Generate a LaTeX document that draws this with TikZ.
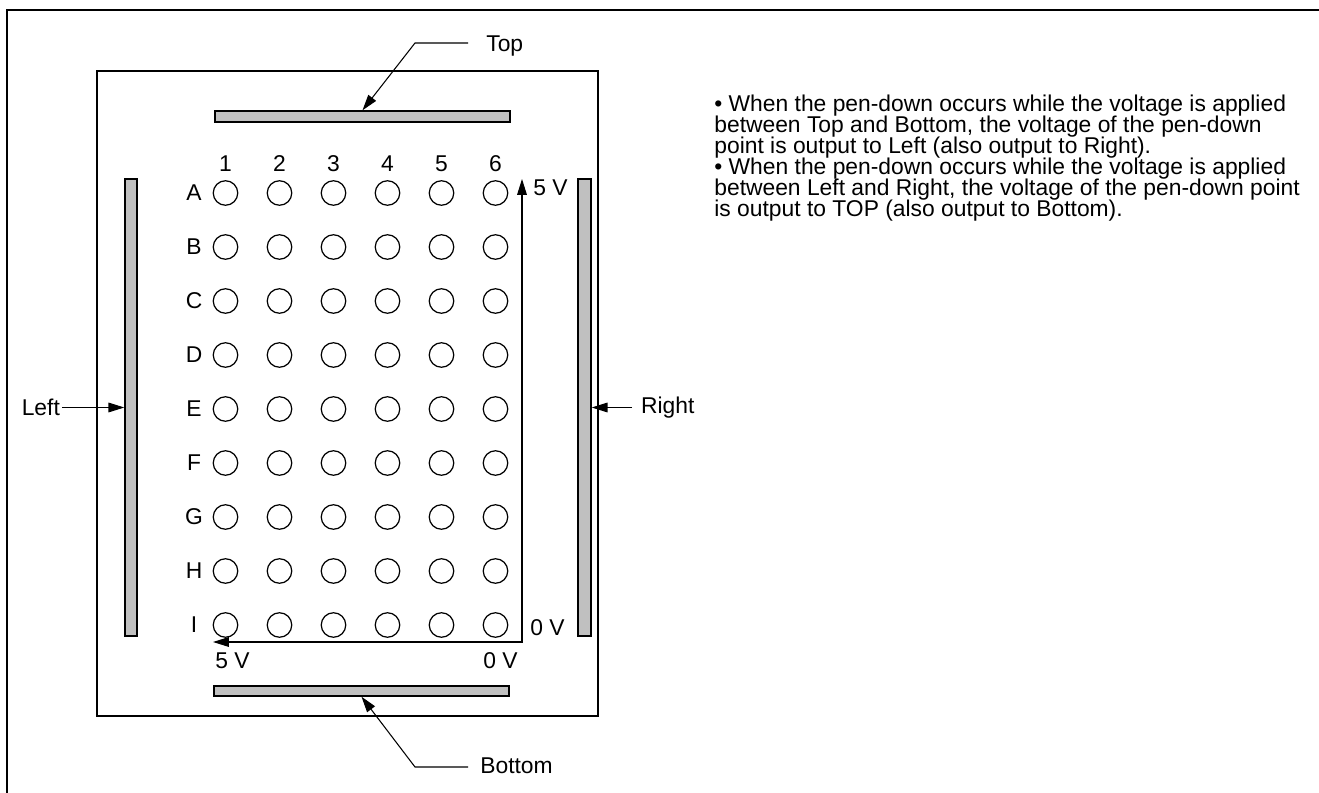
\documentclass[tikz,border=0pt]{standalone}
\usepackage{fontspec}
\setmainfont{Liberation Sans}
\usetikzlibrary{positioning,arrows.meta}
\definecolor{padGray}{HTML}{C0C0C0}

\begin{document}
\begin{tikzpicture}[x=0.02cm, y=-0.02cm,
    font=\fontsize{13pt}{12pt}\selectfont,
    bar/.style={draw, fill=padGray, line width=0.8pt, inner sep=0pt},
    dot/.style={draw, circle, minimum size=0.49cm, inner sep=0pt, line width=0.7pt},
    pointer/.style={-{Triangle[length=9pt,width=5.5pt]}, line width=0.6pt},
    tag/.style={inner sep=0pt}]
    \useasboundingbox (0,0) rectangle (1319,793);
    % frame and panel
    \draw[line width=1.1pt] (7,793) -- (7,10) -- (1319,10);
    \draw[line width=0.7pt] (97,71) rectangle (598,716);

    % electrodes
    \node[bar, minimum width=5.9cm, minimum height=0.22cm] (topbar) at (362.5,116.5) {};
    \node[bar, minimum width=5.9cm, minimum height=0.2cm] (botbar) at (361.5,691) {};
    \node[bar, minimum width=0.24cm, minimum height=9.14cm] (leftbar) at (131,407.5) {};
    \node[bar, minimum width=0.26cm, minimum height=9.14cm] (rightbar) at (584.5,407.5) {};

    % touch points
    \foreach \c in {1,...,6}
        \node[tag] (col\c) at (225.5+54*\c-54,164) {\c};
    \foreach \r [count=\i from 0] in {A,...,I} {
        \node[tag] (row\r) at (194,193+54*\i) {\r};
        \foreach \c in {1,...,6}
            \node[dot] (p\r\c) at (225.5+54*\c-54,193+54*\i) {};
    }

    % voltage path
    \coordinate (corner) at (522,642);
    \coordinate (vtop) at (522,179);
    \coordinate (hleft) at (213,642);
    \draw[{Triangle[length=9pt,width=5.5pt]}-{Triangle[length=9pt,width=5.5pt]}, line width=0.6pt]
        (hleft) -- (corner) -- (vtop);
    \node[tag, anchor=base west] (vhigh) at (533,196) {5 V};
    \node[tag, anchor=base west] (vlowr) at (530,636) {0 V};
    \node[tag, anchor=base west] (vlowb) at (483,668) {0 V};
    \node[tag, anchor=base west] (hhigh) at (215,668) {5 V};

    % labels
    \node[tag, anchor=base west] (toplbl) at (486,52) {Top};
    \coordinate (topend) at (468,43);
    \coordinate (topbend) at (415,43);
    \draw[pointer] (topend) -- (topbend) -- (topbar.north);

    \node[tag, anchor=base west] (botlbl) at (480,773) {Bottom};
    \coordinate (botend) at (468,767);
    \coordinate (botbend) at (415,767);
    \draw[pointer] (botend) -- (botbend) -- (botbar.south);

    \node[tag, anchor=east, inner xsep=1pt] (leftlbl) at (62,407.5) {Left};
    \draw[pointer] (leftlbl.east) -- (leftbar.west);

    \node[tag, anchor=west, inner xsep=5pt] (rightlbl) at (632,407.5) {Right};
    \draw[pointer] (rightlbl.west) -- (rightbar.east);

    % notes
    \foreach \txt [count=\k from 0] in {
        {• When the pen-down occurs while the voltage is applied},
        {between Top and Bottom, the voltage of the pen-down},
        {point is output to Left (also output to Right).},
        {• When the pen-down occurs while the voltage is applied},
        {between Left and Right, the voltage of the pen-down point},
        {is output to TOP (also output to Bottom).}}
        \node[tag, anchor=base west] (note\k) at (714,112+21*\k) {\txt};
\end{tikzpicture}
\end{document}
